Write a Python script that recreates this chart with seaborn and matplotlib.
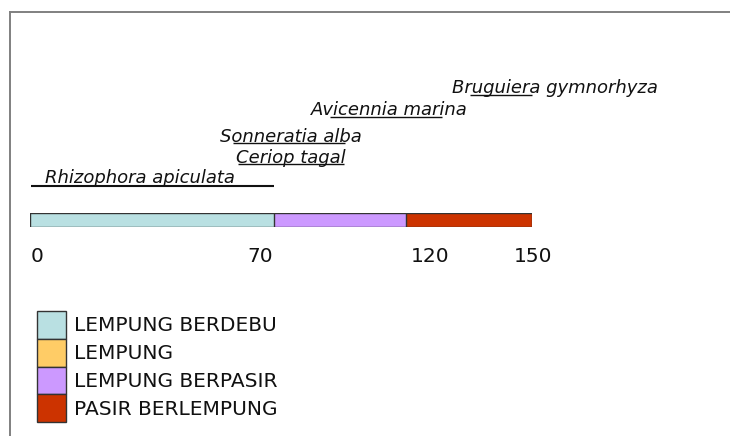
import matplotlib
matplotlib.use("Agg")
import matplotlib.pyplot as plt
import seaborn as sns
import pandas as pd
from matplotlib.patches import Patch

# ---------------- data ----------------
soil_classes = ["LEMPUNG BERDEBU", "LEMPUNG", "LEMPUNG BERPASIR", "PASIR BERLEMPUNG"]
soil_colors = ["#B9E0E2", "#FFCC66", "#CC99FF", "#CC3300"]
segment_values = [73.0, 0.0, 39.5, 37.5]          # widths of the stacked bar
tick_values = [0, 70, 120, 150]
tick_labels = ["0", "70", "120", "150"]

species = ["Bruguiera gymnorhyza", "Avicennia marina", "Sonneratia alba",
           "Ceriop tagal", "Rhizophora apiculata"]
range_start = [131.5, 89.6, 60.7, 62.1, 0.3]
range_end = [150.0, 123.1, 94.1, 93.8, 72.9]

# ---------------- layout ----------------
W, H = 730, 436
DPI = 100
fig = plt.figure(figsize=(W / DPI, H / DPI), dpi=DPI)
sns.set_style("white")
plt.rcParams["font.family"] = ["DejaVu Sans"]

px_per_unit = 502 / 150.0
x0_px = 30.0
xmin = -x0_px / px_per_unit
xmax = (W - x0_px) / px_per_unit

# frame (left & top grey lines)
frame = fig.add_axes([10 / W, -0.1, 1.2, (H - 12) / H + 0.1])
frame.set_xticks([]); frame.set_yticks([])
for s in ["right", "bottom"]:
    frame.spines[s].set_visible(False)
for s in ["left", "top"]:
    frame.spines[s].set_color("#808080")
    frame.spines[s].set_linewidth(1.4)
frame.patch.set_alpha(0)

# main overlay axes: x in data units, y in pixels
ax = fig.add_axes([0, 0, 1, 1])
ax.set_xlim(xmin, xmax)
ax.set_ylim(H, 0)
ax.axis("off")
ax.patch.set_alpha(0)

# stacked bar axes
bar_top, bar_bot = 213.5, 227.5
bax = fig.add_axes([x0_px / W, (H - bar_bot) / H, 502 / W, (bar_bot - bar_top) / H])
cum = []
c = 0
for v in segment_values:
    c += v
    cum.append(c)
df = pd.DataFrame({"cls": soil_classes, "end": cum, "row": ["r"] * len(cum)})
for i in range(len(soil_classes) - 1, -1, -1):
    if segment_values[i] <= 0:
        continue
    sns.barplot(data=df.iloc[[i]], x="end", y="row", orient="h", ax=bax,
                color=soil_colors[i], width=1.0, edgecolor="#333333",
                linewidth=1.0, saturation=1)
bax.set_xlim(0, 150)
bax.set_ylim(0.5, -0.5)
bax.axis("off")

# tick labels
tick_pos = [2.0, 68.7, 119.5, 150.3]
for p, lab in zip(tick_pos, tick_labels):
    ax.text(p, 262, lab, ha="center", va="baseline", fontsize=14.5, color="#111111")

# species labels with underlined ranges
text_x = [126.1, 84.0, 56.8, 61.5, 4.5]
text_base = [93, 115, 142, 163, 183]
ul_y = [95.5, 117.5, 143.5, 164.5, 186]
ul_w = [1.0, 1.0, 1.0, 1.0, 1.5]
for name, tx, ty, a, b, uy, lw in zip(species, text_x, text_base, range_start,
                                      range_end, ul_y, ul_w):
    ax.text(tx, ty, name, ha="left", va="baseline", fontsize=13, style="italic",
            color="#111111")
    ax.hlines(uy, a, b, color="#111111", linewidth=lw)

# legend
handles = [Patch(facecolor=c, edgecolor="#333333", linewidth=1.0) for c in soil_colors]
leg = fig.legend(handles, soil_classes, loc="upper left",
                 bbox_to_anchor=(37 / W, (H - 311) / H), frameon=False,
                 fontsize=14.5, handlelength=1.44, handleheight=1.745,
                 labelspacing=0.0, handletextpad=0.4, borderpad=0.0,
                 borderaxespad=0.0)
for t in leg.get_texts():
    t.set_color("#111111")

fig.savefig("out.png", dpi=DPI)
